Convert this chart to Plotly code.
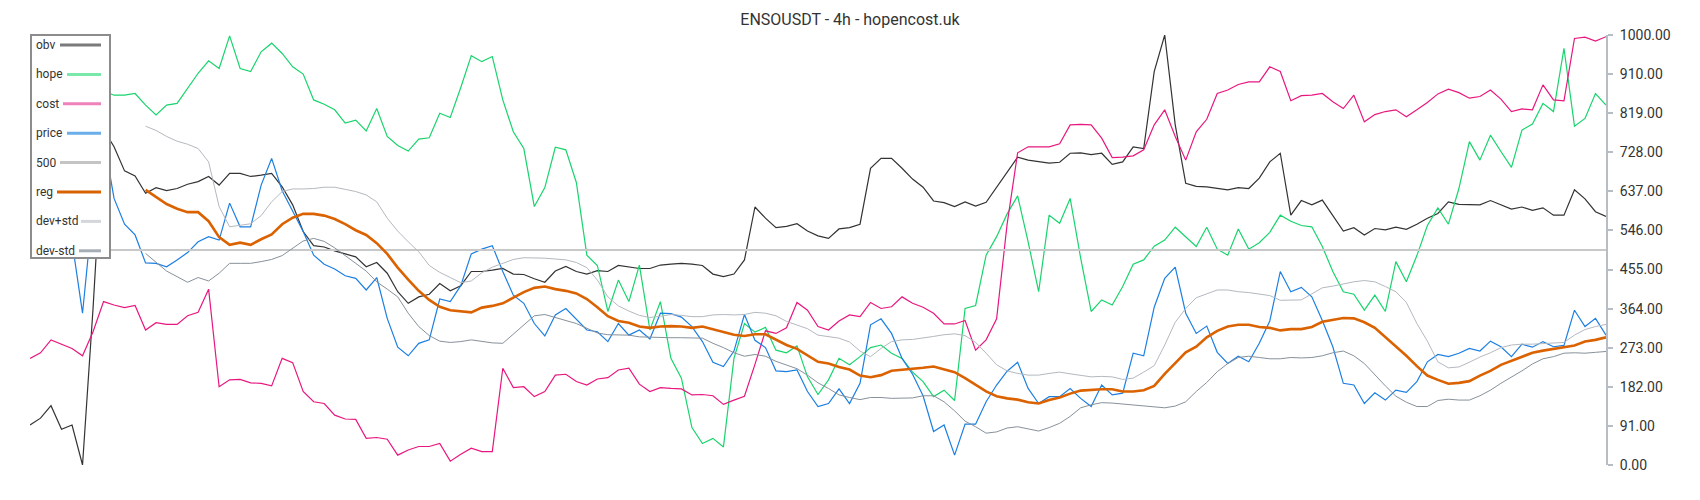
import plotly.graph_objects as go

title = "ENSOUSDT - 4h - hopencost.uk"
names = ["obv", "hope", "cost", "price", "500", "reg", "dev+std", "dev-std"]

# candle index (4h bars), values are normalised 0..1000
x = list(range(151))

obv = [93, 109, 138, 83, 93, 0, 364, 780, 740, 684, 672, 632, 645, 638, 643, 653, 659, 671, 651,
       678, 678, 671, 674, 678, 647, 605, 543, 510, 507, 498, 491, 484, 461, 471, 446, 403, 376, 391,
       397, 422, 405, 417, 450, 450, 453, 457, 444, 443, 433, 425, 451, 462, 450, 444, 452, 450, 464,
       461, 457, 457, 465, 467, 469, 467, 464, 444, 438, 444, 477, 600, 574, 552, 555, 561, 544, 533,
       527, 549, 552, 560, 690, 713, 713, 690, 665, 646, 614, 610, 601, 612, 602, 611, 645, 682, 716,
       709, 705, 702, 704, 725, 726, 722, 725, 699, 705, 740, 736, 915, 1000, 791, 655, 648, 647, 643,
       640, 645, 643, 667, 705, 725, 581, 615, 605, 616, 580, 544, 552, 535, 550, 547, 553, 548, 560,
       574, 585, 612, 606, 606, 605, 615, 605, 595, 600, 592, 598, 581, 581, 640, 619, 589, 578]

hope = [860, 880, 850, 870, 840, 880, 860, 870, 860, 860, 864, 837, 814, 837, 841, 876, 911, 940, 922,
        998, 922, 915, 961, 981, 957, 926, 909, 849, 839, 826, 795, 802, 777, 829, 764, 743, 730, 758,
        761, 818, 808, 878, 952, 938, 950, 849, 775, 736, 601, 645, 739, 733, 657, 488, 464, 357, 430,
        380, 465, 314, 380, 248, 202, 87, 50, 62, 42, 248, 329, 309, 320, 267, 261, 277, 205, 164,
        198, 248, 233, 252, 273, 279, 260, 248, 216, 194, 159, 174, 150, 364, 371, 488, 531, 584, 626,
        519, 403, 581, 562, 620, 481, 357, 384, 372, 415, 467, 477, 509, 523, 553, 531, 508, 553, 502,
        488, 549, 502, 517, 541, 581, 567, 557, 554, 508, 450, 403, 397, 360, 395, 357, 473, 426, 487,
        557, 598, 560, 643, 752, 709, 767, 729, 692, 779, 793, 841, 822, 969, 788, 806, 864, 837]

cost = [248, 261, 291, 281, 271, 254, 310, 380, 372, 366, 371, 314, 331, 327, 327, 347, 355, 409, 182,
        198, 199, 191, 190, 184, 248, 238, 171, 147, 143, 116, 107, 106, 62, 64, 60, 23, 35, 43,
        43, 50, 9, 25, 39, 31, 31, 225, 180, 182, 159, 171, 209, 211, 194, 186, 200, 203, 221,
        225, 188, 171, 180, 178, 177, 163, 164, 161, 141, 151, 160, 234, 312, 306, 319, 378, 360, 322,
        314, 335, 349, 345, 378, 364, 368, 391, 376, 367, 353, 328, 328, 336, 267, 291, 340, 560, 726,
        740, 740, 740, 747, 791, 792, 791, 760, 715, 716, 719, 733, 791, 826, 764, 709, 775, 804, 864,
        872, 885, 891, 891, 926, 915, 847, 859, 860, 864, 845, 829, 860, 798, 815, 822, 826, 810, 826,
        843, 863, 874, 866, 853, 857, 872, 851, 822, 828, 826, 884, 849, 847, 992, 995, 986, 996]

price = [600, 680, 640, 700, 520, 353, 600, 760, 620, 560, 535, 470, 469, 461, 477, 494, 519, 531, 523,
         609, 554, 554, 651, 713, 638, 589, 543, 488, 467, 456, 440, 434, 407, 436, 341, 274, 254, 283,
         291, 386, 380, 417, 491, 502, 510, 450, 395, 376, 329, 300, 349, 364, 340, 314, 310, 287, 329,
         302, 314, 293, 353, 352, 344, 322, 287, 239, 229, 265, 350, 290, 273, 219, 217, 221, 171, 136,
         143, 177, 143, 190, 326, 340, 306, 248, 211, 161, 78, 93, 23, 95, 95, 147, 186, 218, 239,
         178, 143, 159, 159, 178, 155, 136, 186, 163, 167, 260, 254, 367, 434, 460, 353, 306, 323, 262,
         236, 253, 240, 283, 335, 450, 403, 413, 391, 336, 275, 190, 186, 143, 168, 151, 174, 169, 194,
         240, 257, 252, 260, 271, 265, 288, 275, 252, 281, 274, 287, 275, 278, 360, 322, 341, 302]

level_500 = [500] * len(x)

N0 = [None] * 11  # regression needs a warm-up window

reg = N0 + [640, 624, 607, 596, 588, 588, 567, 530,
            512, 517, 512, 525, 536, 560, 575, 584, 584, 580, 572, 560, 546, 535, 516, 491, 459, 431, 405,
            384, 368, 360, 357, 355, 366, 370, 376, 389, 402, 412, 415, 409, 405, 399, 386, 367, 346, 335,
            331, 322, 319, 322, 323, 322, 319, 322, 316, 310, 303, 300, 304, 304, 292, 279, 270, 254, 240,
            236, 228, 222, 208, 204, 209, 219, 221, 223, 226, 229, 223, 216, 202, 186, 171, 160, 155, 152,
            146, 143, 151, 157, 166, 173, 175, 176, 176, 171, 171, 174, 184, 212, 237, 262, 275, 297, 312,
            322, 326, 326, 321, 319, 313, 316, 316, 321, 333, 338, 342, 341, 332, 319, 298, 275, 254, 230,
            208, 198, 189, 191, 195, 208, 219, 233, 242, 252, 261, 266, 270, 273, 278, 287, 291, 297]

dev_plus = N0 + [788, 778, 764, 753, 746, 736, 705, 601,
                 554, 558, 561, 580, 612, 636, 642, 642, 643, 646, 646, 641, 636, 628, 612, 574, 544, 519, 496,
                 464, 448, 436, 424, 428, 447, 460, 469, 478, 482, 482, 481, 479, 477, 471, 459, 430, 391, 370,
                 358, 348, 343, 346, 350, 348, 345, 345, 349, 350, 349, 350, 355, 353, 347, 334, 326, 317, 302,
                 298, 295, 286, 265, 252, 271, 287, 291, 292, 295, 299, 303, 305, 301, 285, 260, 233, 219, 213,
                 209, 209, 213, 216, 212, 208, 205, 206, 205, 199, 202, 216, 231, 279, 332, 364, 389, 398, 407,
                 407, 403, 401, 398, 394, 383, 384, 384, 398, 412, 416, 421, 426, 429, 426, 415, 403, 378, 329,
                 288, 240, 226, 228, 239, 251, 261, 273, 279, 281, 281, 282, 283, 285, 302, 315, 322, 327]

dev_minus = N0 + [492, 471, 451, 438, 425, 436, 428, 446,
                  469, 469, 469, 473, 478, 487, 505, 521, 527, 520, 505, 488, 469, 451, 426, 409, 391, 353, 322,
                  301, 288, 285, 287, 291, 288, 284, 283, 304, 326, 347, 350, 343, 336, 329, 318, 307, 303, 302,
                  302, 298, 297, 296, 296, 296, 296, 295, 283, 273, 261, 253, 257, 253, 241, 232, 224, 209, 191,
                  178, 163, 157, 152, 157, 157, 155, 155, 156, 161, 161, 147, 126, 102, 89, 74, 77, 86, 89,
                  84, 79, 87, 97, 113, 133, 140, 145, 144, 142, 140, 138, 136, 133, 137, 147, 171, 192, 217,
                  236, 250, 253, 250, 247, 247, 250, 249, 250, 254, 261, 265, 254, 236, 209, 184, 160, 146, 136,
                  136, 150, 153, 151, 151, 161, 174, 190, 204, 219, 235, 247, 252, 260, 261, 260, 262, 264]

ytick_labels = ["0.00", "91.00", "182.00", "273.00", "364.00", "455.00",
                "546.00", "637.00", "728.00", "819.00", "910.00", "1000.00"]

series = [obv, hope, cost, price, level_500, reg, dev_plus, dev_minus]
colors = ["#333333", "#19d46e", "#e8177f", "#1c7fe2", "#c8c8c8", "#db6200", "#b4b9bf", "#87919a"]
widths = [1.2, 1.2, 1.2, 1.2, 2, 2.6, 1, 1]
legend_colors = ["#7a7a7a", "#7ae8a8", "#ee82bb", "#6aaeea", "#c4c4c4", "#d96200", "#d3d7db", "#a6adb4"]

# the page body has an 8px margin, so the figure is made 16px smaller
OFF = 8
W, H = 1684, 484
L, R, T, B = 22, 86, 27, 27
PW, PH = W - L - R, H - T - B


def px(xp):
    # page pixel x -> paper coordinate
    return (xp - OFF - L) / PW


def py(yp):
    # page pixel y -> paper coordinate
    return (H - B - (yp - OFF)) / PH


fig = go.Figure()
for name, vals, col, w in zip(names, series, colors, widths):
    fig.add_trace(go.Scatter(
        x=x, y=vals, name=name, mode="lines",
        line=dict(color=col, width=w),
        showlegend=False, hoverinfo="skip",
    ))

# hand-made legend box (label left, line sample right)
shapes = [dict(type="rect", xref="paper", yref="paper",
               x0=px(31), x1=px(110), y0=py(258), y1=py(35),
               fillcolor="white", line=dict(color="#8c8c8c", width=2), layer="above")]
annotations = []
sym_start = [60, 67, 63, 67, 60, 57, 81, 79]
for i, (name, col) in enumerate(zip(names, legend_colors)):
    yc = 45 + 29.4 * i
    annotations.append(dict(
        text=name, xref="paper", yref="paper", x=px(34), y=py(yc),
        xanchor="left", yanchor="middle", showarrow=False,
        font=dict(family="Roboto", size=12, color="#333333"),
    ))
    shapes.append(dict(type="line", xref="paper", yref="paper",
                       x0=px(sym_start[i]), x1=px(101), y0=py(yc), y1=py(yc),
                       line=dict(color=col, width=3), layer="above"))

fig.update_layout(
    width=W, height=H,
    margin=dict(l=L, r=R, t=T, b=B),
    paper_bgcolor="white", plot_bgcolor="white",
    font=dict(family="Roboto", color="#333333"),
    title=dict(text=title, x=px(850), xref="paper", xanchor="center",
               y=1 - (19.5 - OFF) / H, yanchor="middle",
               font=dict(family="Roboto", size=16, color="#333333")),
    xaxis=dict(range=[0, len(x) - 1], visible=False),
    yaxis=dict(
        range=[0, 1000], side="right",
        showgrid=False, zeroline=False,
        showline=True, linecolor="#b6bdc5", linewidth=2,
        ticks="outside", ticklen=5, tickwidth=2, tickcolor="#b6bdc5",
        tickvals=[i * 1000 / 11 for i in range(12)], ticktext=ytick_labels,
        tickfont=dict(family="Roboto", size=14, color="#333333"),
        ticklabelstandoff=4,
    ),
    shapes=shapes,
    annotations=annotations,
    showlegend=False,
)

fig.write_html("out.html")
